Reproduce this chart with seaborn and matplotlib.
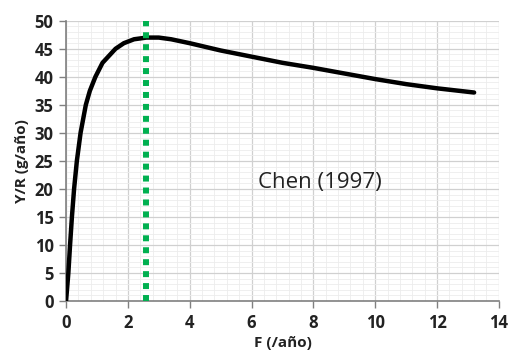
import matplotlib
matplotlib.use("Agg")
import matplotlib.pyplot as plt
import seaborn as sns
import pandas as pd
from matplotlib.ticker import MultipleLocator

F = [0, 0.075, 0.13, 0.19, 0.26, 0.35, 0.47, 0.64, 0.77, 0.95, 1.18, 1.6, 1.87,
     2.2, 2.6, 3.0, 3.4, 4.0, 5.0, 6.0, 7.0, 8.0, 9.0, 10.0, 11.0, 12.0, 13.2]
YR = [0, 5, 10, 15, 20, 25, 30, 35, 37.5, 40, 42.5, 45, 46.0,
      46.7, 47.0, 47.0, 46.7, 46.0, 44.7, 43.6, 42.5, 41.6, 40.6, 39.6, 38.7, 37.95, 37.2]
F_opt = 2.58
text_label = "Chen (1997)"
xlabel = "F (/año)"
ylabel = "Y/R (g/año)"

df = pd.DataFrame({"F": F, "YR": YR})

sns.set_theme(style="white")
plt.rcParams['font.family'] = ['Open Sans', 'DejaVu Sans']

fig = plt.figure(figsize=(5.08, 3.58), dpi=100)
ax = fig.add_axes([0.13, 0.159, 0.852, 0.783])

ax.set_xlim(0, 14)
ax.set_ylim(0, 50)
ax.xaxis.set_major_locator(MultipleLocator(2))
ax.xaxis.set_minor_locator(MultipleLocator(0.4))
ax.yaxis.set_major_locator(MultipleLocator(5))
ax.yaxis.set_minor_locator(MultipleLocator(1))
ax.grid(which="major", color="#d0d0d0", linewidth=0.9)
ax.grid(which="minor", color="#ececec", linewidth=0.6)
ax.set_axisbelow(True)

sns.lineplot(data=df, x="F", y="YR", ax=ax, color="black", linewidth=3.2,
             sort=False, zorder=3)
ax.plot([F_opt, F_opt], [0, 50], color="#00b050", linewidth=4.3,
        linestyle=(0, (1, 1.0)), dash_capstyle="butt", zorder=4)

ax.text(8.2, 21.2, text_label, fontsize=16, color="#222222", ha="center", va="center",
        zorder=5)

for s in ["top", "right"]:
    ax.spines[s].set_visible(False)
for s in ["left", "bottom"]:
    ax.spines[s].set_color("#808080")
    ax.spines[s].set_linewidth(1.2)

ax.tick_params(axis="both", which="major", length=5, width=1, color="#808080",
               labelsize=12, pad=4, bottom=True, left=True)
ax.tick_params(axis="both", which="minor", length=0)
for lab in ax.get_xticklabels() + ax.get_yticklabels():
    lab.set_fontweight("bold")
    lab.set_color("#222222")

ax.set_xlabel(xlabel, fontsize=11, fontweight="bold", color="#222222", labelpad=3)
ax.set_ylabel(ylabel, fontsize=11, fontweight="bold", color="#222222", labelpad=4)

fig.savefig("out.png", dpi=100)
